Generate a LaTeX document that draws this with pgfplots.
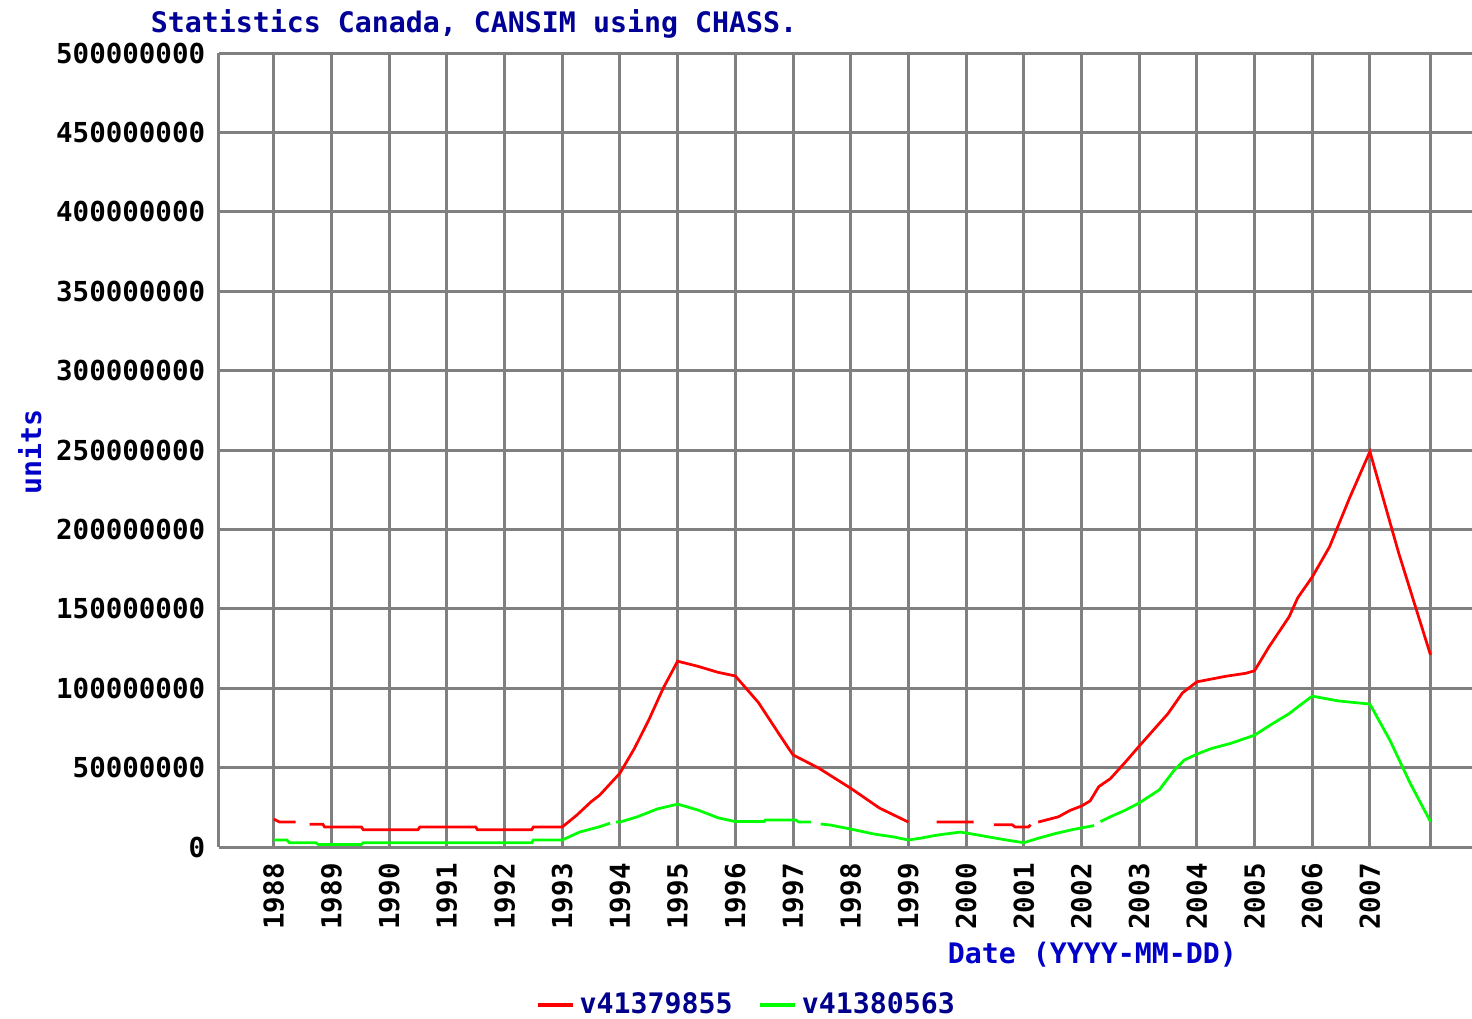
\documentclass[border=0pt]{standalone}
\usepackage{fontspec}
\setmainfont{DejaVu Sans Mono}
\usepackage{pgfplots}
\pgfplotsset{compat=1.18}
\definecolor{gridgray}{RGB}{128,128,128}
\definecolor{titleblue}{RGB}{0,0,150}
\definecolor{labelblue}{RGB}{0,0,200}
\definecolor{legblue}{RGB}{0,0,140}
\definecolor{myred}{RGB}{255,0,0}
\definecolor{mygreen}{RGB}{0,255,0}
\begin{document}
\begin{tikzpicture}
\useasboundingbox (-87.6pt,-68.4pt) rectangle (501.2pt,338.8pt);
\begin{axis}[
  scale only axis,
  width=501.2pt, height=317.6pt,
  at={(0pt,0pt)}, anchor=south west,
  xmin=1987.05, xmax=2008.77,
  ymin=0, ymax=500,
  axis x line=bottom, axis y line=left,
  axis line style={draw=gridgray, line width=1.2pt, -},
  x axis line style={-}, y axis line style={-},
  xtick={1988,1989,1990,1991,1992,1993,1994,1995,1996,1997,1998,1999,2000,2001,2002,2003,2004,2005,2006,2007,2008.05},
  xticklabels={1988,1989,1990,1991,1992,1993,1994,1995,1996,1997,1998,1999,2000,2001,2002,2003,2004,2005,2006,2007,{}},
  ytick={0,50,100,150,200,250,300,350,400,450,500},
  yticklabels={0,50000000,100000000,150000000,200000000,250000000,300000000,350000000,400000000,450000000,500000000},
  major tick length=0pt,
  grid=major,
  major grid style={draw=gridgray, line width=1.2pt},
  tick label style={font=\fontsize{11}{13}\selectfont\bfseries, text=black},
  xticklabel style={rotate=90, anchor=east, xshift=-3pt},
  yticklabel style={anchor=east, xshift=-2pt},
  unbounded coords=jump,
  title={\bfseries Statistics Canada, CANSIM using CHASS.},
  title style={at={(axis description cs:0.2035,1.018)}, anchor=center, yshift=0pt, font=\fontsize{11.3}{13}\selectfont\bfseries, text=titleblue},
  xlabel={Date (YYYY-MM-DD)},
  xlabel style={at={(axis description cs:0.697,-0.136)}, anchor=center, font=\fontsize{11.3}{13}\selectfont\bfseries, text=labelblue},
  ylabel={units},
  ylabel style={at={(axis description cs:-0.151,0.497)}, anchor=center, rotate=0, font=\fontsize{11.3}{13}\selectfont\bfseries, text=labelblue},
  legend columns=2,
  legend style={at={(axis description cs:0.422,0)}, yshift=-63.2pt, anchor=center, draw=none, fill=none,
    font=\fontsize{11.3}{13}\selectfont\bfseries, text=legblue,
    /tikz/every even column/.append style={column sep=8pt}},
  legend image code/.code={\draw[#1, line width=1.6pt] (0pt,0pt) -- (14pt,0pt);},
]
\addplot[myred, line width=1.1pt] coordinates {
(1988.0,17.6) (1988.1,15.7) (1988.38,15.7) (1988.5,nan)
(1988.62,14.3) (1988.85,14.3) (1988.88,12.6) (1989.52,12.6) (1989.55,10.9)
(1990.5,10.9) (1990.53,12.6) (1991.5,12.6) (1991.53,10.9) (1992.47,10.9) (1992.5,12.6)
(1993.0,12.6) (1993.25,20) (1993.5,28.5) (1993.65,32.7) (1994.0,46.5)
(1994.25,62) (1994.5,80) (1994.75,100) (1995.0,117) (1995.35,113.8) (1995.7,110)
(1996.0,107.7) (1996.4,91) (1996.75,71.6) (1997.0,58) (1997.45,49.6) (1998.0,37)
(1998.5,24.5) (1999.0,15.7) (1999.25,nan)
(1999.49,15.7) (2000.13,15.7) (2000.3,nan)
(2000.48,14) (2000.8,14) (2000.85,12.6) (2001.08,12.6) (2001.12,14) (2001.17,nan)
(2001.25,15.7) (2001.45,17.6) (2001.6,19) (2001.8,23) (2002.0,25.8) (2002.15,29)
(2002.3,38) (2002.5,43) (2002.75,53) (2003.0,63.5) (2003.5,84) (2003.75,97)
(2004.0,104) (2004.5,107.5) (2004.85,109.4) (2005.0,111) (2005.25,126) (2005.6,145)
(2005.75,157) (2006.0,170) (2006.3,189) (2006.65,220) (2007.0,249) (2007.5,185)
(2008.05,121)
};
\addlegendentry{v41379855}
\addplot[mygreen, line width=1.1pt] coordinates {
(1988.0,4.4) (1988.23,4.4) (1988.27,2.7) (1988.73,2.7) (1988.77,1.6) (1989.52,1.6)
(1989.55,2.7) (1992.47,2.7) (1992.5,4.4) (1993.0,4.4) (1993.3,9.4) (1993.65,12.8)
(1993.83,15) (1993.88,nan) (1993.93,15.7) (1994.0,15.7) (1994.3,19) (1994.65,24)
(1995.0,27) (1995.35,23.3) (1995.7,18.4) (1996.0,16) (1996.5,16) (1996.52,17)
(1997.05,17) (1997.1,15.7) (1997.31,15.7) (1997.4,nan) (1997.48,14.5) (1997.65,13.8)
(1998.0,11.3) (1998.4,8.2) (1998.75,6.3) (1999.0,4.4) (1999.2,5.5) (1999.5,7.5)
(1999.9,9.4) (2000.1,8.2) (2000.4,6.3) (2000.7,4.4) (2001.0,2.7) (2001.25,5.5)
(2001.55,8.5) (2001.85,11) (2002.1,12.7) (2002.22,13.5) (2002.28,nan) (2002.33,16)
(2002.5,19) (2002.75,23) (2003.0,27.7) (2003.35,36) (2003.6,48) (2003.78,54.7)
(2004.0,58.5) (2004.25,62) (2004.6,65.4) (2005.0,70.4) (2005.27,76.7) (2005.6,84)
(2005.78,89) (2006.0,95) (2006.45,92) (2007.0,90) (2007.35,67) (2007.7,40)
(2008.05,16)
};
\addlegendentry{v41380563}
\end{axis}
\end{tikzpicture}
\end{document}
